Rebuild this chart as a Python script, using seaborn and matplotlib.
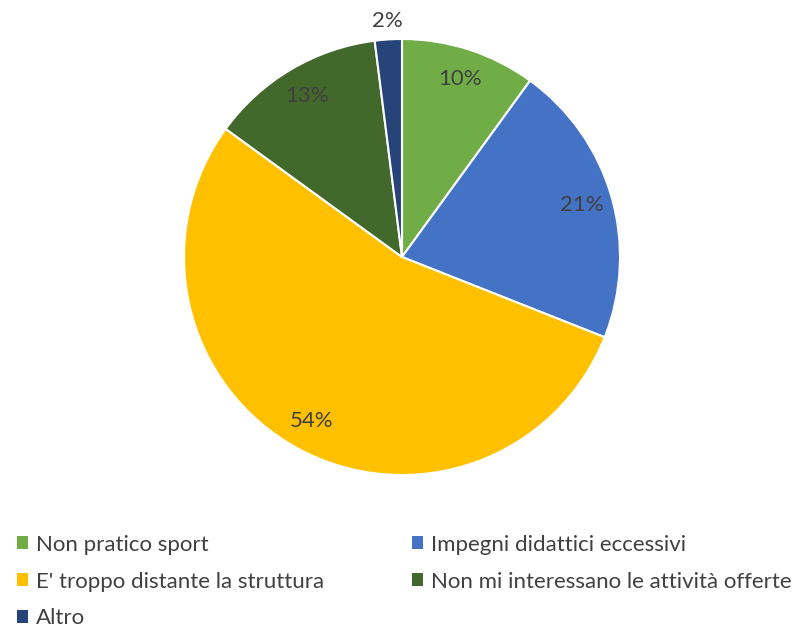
import numpy as np
import matplotlib
matplotlib.use("Agg")
import matplotlib.pyplot as plt
import seaborn as sns

categories = ["Non pratico sport", "Impegni didattici eccessivi",
              "E' troppo distante la struttura",
              "Non mi interessano le attività offerte", "Altro"]
values = [10, 21, 54, 13, 2]
colors = ["#70AD47", "#4472C4", "#FFC000", "#43682B", "#264478"]

sns.set_style("white")
plt.rcParams['font.family'] = ['Lato', 'DejaVu Sans']

fig = plt.figure(figsize=(8.02, 6.29), dpi=100)
# pie centre (402, 257) px, radius 218 px
ax = fig.add_axes([(402 - 218) / 802, (629 - 257 - 218) / 629, 436 / 802, 436 / 629])
wedges, texts, autotexts = ax.pie(
    values, colors=colors, startangle=90, counterclock=False,
    autopct='%1.0f%%', pctdistance=0.86,
    wedgeprops=dict(edgecolor='white', linewidth=1.5),
    textprops=dict(color='#404040', fontsize=16))
ax.set_xlim(-1, 1)
ax.set_ylim(-1, 1)
ax.set_aspect('equal')
ax.axis('off')

# small slice label sits outside the pie
w = wedges[-1]
ang = np.deg2rad((w.theta1 + w.theta2) / 2)
autotexts[-1].set_position((1.085 * np.cos(ang), 1.085 * np.sin(ang)))

order = [0, 2, 4, 1, 3]
leg = fig.legend([wedges[i] for i in order], [categories[i] for i in order],
                 loc='upper left', bbox_to_anchor=(0.021, 0.150), ncol=2,
                 frameon=False, fontsize=16, handlelength=0.5, handleheight=0.5,
                 handletextpad=0.35, columnspacing=3.95, labelspacing=0.76,
                 borderpad=0, borderaxespad=0)
for t in leg.get_texts():
    t.set_color('#404040')
for h in leg.legend_handles:
    h.set_edgecolor('none')

fig.savefig("out.png", dpi=100)
